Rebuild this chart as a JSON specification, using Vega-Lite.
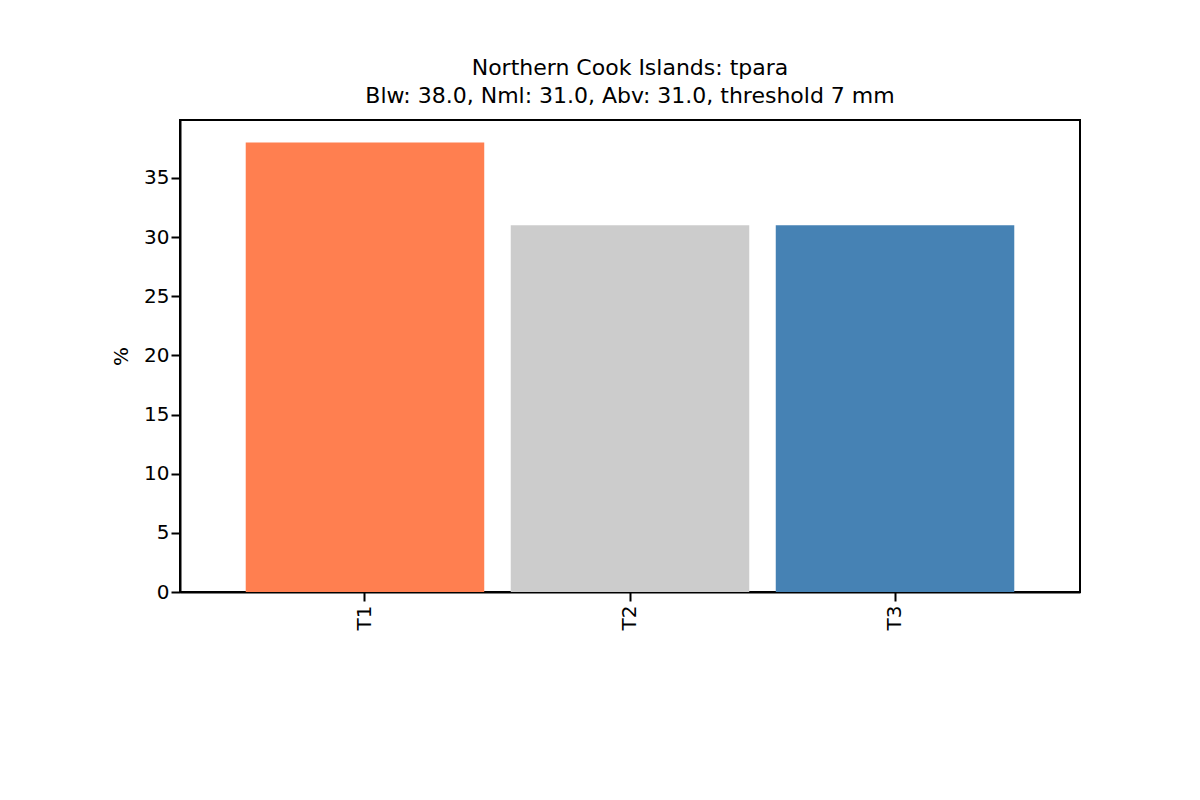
{
  "$schema": "https://vega.github.io/schema/vega-lite/v6.json",
  "width": 900,
  "height": 472,
  "autosize": {"type": "none"},
  "padding": {"left": 180, "top": 120, "right": 120, "bottom": 208},
  "background": "white",
  "config": {
    "font": "DejaVu Sans",
    "view": {"stroke": "black", "strokeWidth": 2},
    "axis": {"labelFont": "DejaVu Sans", "titleFont": "DejaVu Sans", "labelFontSize": 20, "titleFontSize": 20, "titleFontWeight": "normal", "labelColor": "black", "titleColor": "black", "domainColor": "black", "tickColor": "black", "domainWidth": 2, "tickWidth": 2, "tickSize": 9, "grid": false}
  },
  "title": {"text": ["Northern Cook Islands: tpara", "Blw: 38.0, Nml: 31.0, Abv: 31.0, threshold 7 mm"], "font": "DejaVu Sans", "fontSize": 22, "fontWeight": "normal", "color": "black", "offset": 12, "lineHeight": 28},
  "data": {"values": [
    {"cat": "T1", "pct": 38.0},
    {"cat": "T2", "pct": 31.0},
    {"cat": "T3", "pct": 31.0}
  ]},
  "mark": {"type": "bar"},
  "encoding": {
    "x": {"field": "cat", "type": "nominal", "title": null,
      "scale": {"paddingInner": 0.1, "paddingOuter": 0.248},
      "axis": {"labelAngle": -90, "labelPadding": 4}},
    "y": {"field": "pct", "type": "quantitative", "title": "%",
      "scale": {"domain": [0, 39.9], "nice": false},
      "axis": {"values": [0, 5, 10, 15, 20, 25, 30, 35], "titlePadding": 12}},
    "color": {"field": "cat", "type": "nominal", "legend": null,
      "scale": {"domain": ["T1", "T2", "T3"], "range": ["#ff7f50", "#cccccc", "#4682b4"]}}
  }
}
